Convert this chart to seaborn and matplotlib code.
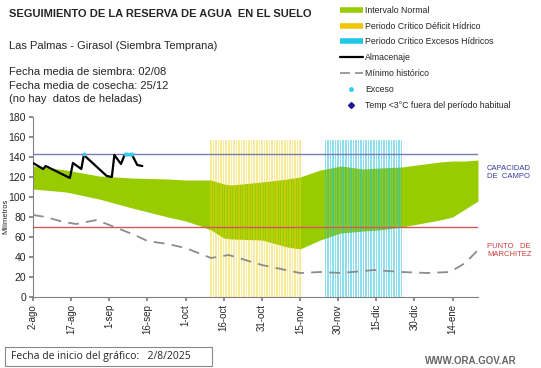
import numpy as np
import pandas as pd
import matplotlib
matplotlib.use("Agg")
import matplotlib.pyplot as plt
import seaborn as sns
from matplotlib.lines import Line2D
from matplotlib.patches import Rectangle

# ---------------- data ----------------
tick_days = [0, 15, 30, 45, 60, 75, 90, 105, 120, 135, 150, 165]
tick_labels = ["2-ago", "17-ago", "1-sep", "16-sep", "1-oct", "16-oct", "31-oct",
               "15-nov", "30-nov", "15-dic", "30-dic", "14-ene"]

band_days = [0, 13, 26, 39, 53, 60, 66, 70, 75, 78, 90, 100, 105, 113, 121, 130, 136, 145, 160, 165, 170, 175]
band_upper = [131, 127, 121, 119, 118, 117, 117, 117, 113, 112, 115, 118, 120, 127, 131, 128, 129, 130, 135, 136, 136, 137]
band_lower = [108, 105, 98, 89, 80, 76, 71, 67, 59, 58, 57, 50, 48, 57, 64, 66, 67, 70, 77, 80, 88, 96]

min_days = [0, 5, 12, 17, 25, 30, 40, 45, 53, 60, 70, 77, 90, 105, 113, 121, 130, 134, 145, 155, 164, 170, 175]
min_vals = [82, 80, 75, 73, 77, 72, 62, 56, 53, 49, 39, 42, 32, 24, 25, 24, 26, 27, 25, 24, 25, 34, 47]

alm_days = [0, 4, 5, 14.5, 15.7, 19, 20, 29, 31, 32, 34.6, 36, 39, 41, 43]
alm_vals = [134, 128, 131, 119, 134, 128, 142, 121, 120, 142, 133, 142, 142, 132, 131]

exc_days = [20, 36, 37, 38, 39]
exc_vals = [143, 143, 143, 143, 143]

deficit_period = (70, 105)
excess_period = (115, 145)
period_top = 157

capacidad = 142.6
marchitez = 70

# ---------------- figure ----------------
sns.set_theme(style="white")
plt.rcParams['font.family'] = ['Liberation Sans', 'DejaVu Sans']

fig = plt.figure(figsize=(5.41, 3.68), dpi=100)
ax = fig.add_axes([33/541, 1-297/368, 445/541, 180/368])

green = "#99cc00"
ax.fill_between(band_days, band_lower, band_upper, color=green, lw=0, zorder=1)

def_days = np.arange(deficit_period[0], deficit_period[1] + 1)
exc_period_days = np.arange(excess_period[0], excess_period[1] + 1)
ax.bar(def_days, [period_top] * len(def_days), width=0.6, color="#f2d21c", alpha=0.45, lw=0, zorder=2)
ax.bar(exc_period_days, [period_top] * len(exc_period_days), width=0.6, color="#1cbfe0", alpha=0.5, lw=0, zorder=2)

ax.axhline(capacidad, color="#7a7ab8", lw=1.0, zorder=3)
ax.axhline(marchitez, color="#d05a5a", lw=1.0, zorder=3)

df_min = pd.DataFrame({"d": min_days, "v": min_vals})
sns.lineplot(data=df_min, x="d", y="v", ax=ax, color="#8c8c8c", lw=1.3, zorder=4)
ax.lines[-1].set_dashes((6, 4))

df_alm = pd.DataFrame({"d": alm_days, "v": alm_vals})
sns.lineplot(data=df_alm, x="d", y="v", ax=ax, color="black", lw=1.6, zorder=5)
ax.scatter(exc_days, exc_vals, s=8, color="#33ccee", zorder=6, lw=0)

ax.set_xlim(0, 175)
ax.set_ylim(0, 180)
ax.set_yticks(range(0, 181, 20))
ax.set_xticks(tick_days)
ax.set_xticklabels(tick_labels, rotation=90, fontsize=7)
ax.tick_params(axis='y', labelsize=7.5, length=3, direction='out', left=True, pad=2, color="#808080")
ax.tick_params(axis='x', length=3, direction='out', bottom=True, pad=2, color="#808080")
ax.set_xlabel("")
ax.set_ylabel("Milímetros", fontsize=5.5, labelpad=1)
ax.yaxis.set_label_coords(-24/445, 0.45)
for s in ["top", "right"]:
    ax.spines[s].set_visible(False)
for s in ["left", "bottom"]:
    ax.spines[s].set_color("#808080")
    ax.spines[s].set_linewidth(0.8)

# ---------------- texts ----------------
fig.text(9/541, 1-14/368, "SEGUIMIENTO DE LA RESERVA DE AGUA  EN EL SUELO",
         fontsize=8, fontweight="bold", va="center", ha="left")
fig.text(9/541, 1-46/368, "Las Palmas - Girasol (Siembra Temprana)",
         fontsize=8, va="center", ha="left")
fig.text(9/541, 1-72/368, "Fecha media de siembra: 02/08", fontsize=8, va="center")
fig.text(9/541, 1-86/368, "Fecha media de cosecha: 25/12", fontsize=8, va="center")
fig.text(9/541, 1-99/368, "(no hay  datos de heladas)", fontsize=8, va="center")

fig.text(487/541, 1-173/368, "CAPACIDAD\nDE  CAMPO", fontsize=5.5, color="#3a3a99",
         va="center", ha="left", linespacing=1.2)
fig.text(487/541, 1-251/368, "PUNTO   DE\nMARCHITEZ", fontsize=5.5, color="#cc3b3b",
         va="center", ha="left", linespacing=1.2)

fig.text(425/541, 1-361/368, "WWW.ORA.GOV.AR", fontsize=7, color="#666666",
         fontweight="bold", va="center", ha="left")

fig.patches.append(Rectangle((5/541, 1-366/368), 207/541, 19/368,
                             transform=fig.transFigure, fill=False,
                             edgecolor="#888888", lw=0.8))
fig.text(11/541, 1-357/368, "Fecha de inicio del gráfico:   2/8/2025",
         fontsize=7.5, va="center", ha="left", family=["Open Sans", "DejaVu Sans"])

# ---------------- legend ----------------
handles = [
    Line2D([], [], color=green, lw=4, solid_capstyle="butt"),
    Line2D([], [], color="#f2c500", lw=4, solid_capstyle="butt"),
    Line2D([], [], color="#22c6e6", lw=4, solid_capstyle="butt"),
    Line2D([], [], color="black", lw=1.6),
    Line2D([], [], color="#8c8c8c", lw=1.2, dashes=(6, 3)),
    Line2D([], [], color="#33ccee", marker="o", ms=2.5, lw=0),
    Line2D([], [], color="#1a1a99", marker="D", ms=3, lw=0),
]
labels = ["Intervalo Normal", "Periodo Crítico Déficit Hídrico",
          "Periodo Crítico Excesos Hídricos", "Almacenaje", "Mínimo histórico",
          "Exceso", "Temp <3°C fuera del período habitual"]
fig.legend(handles, labels, loc="upper left", bbox_to_anchor=(338/541, 1-4/368),
           frameon=False, fontsize=6.3, handlelength=2.6, handletextpad=0.3,
           labelspacing=0.78, borderaxespad=0, borderpad=0.2)

fig.savefig("out.png", dpi=100)
